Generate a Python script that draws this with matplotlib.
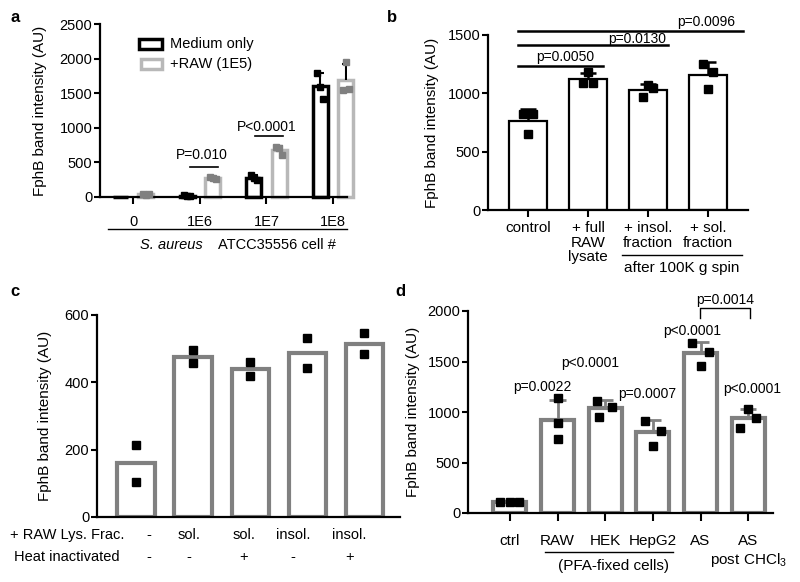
import matplotlib.pyplot as plt
import numpy as np
from matplotlib.lines import Line2D
from matplotlib.patches import Rectangle

plt.rcParams['font.family'] = ['Liberation Sans', 'DejaVu Sans']
plt.rcParams['mathtext.default'] = 'regular'

W, H = 800, 582

# Panel a: S. aureus cell number, medium only vs +RAW
a_groups = ['0', '1E6', '1E7', '1E8']
a_medium = [[0, 0, 0], [25, 15, 10], [320, 275, 245], [1795, 1585, 1415]]
a_raw = [[40, 35, 40], [295, 270, 255], [725, 705, 605], [1545, 1950, 1565]]
a_pvals = ['P=0.010', 'P<0.0001']

# Panel b: lysate fractions
b_labels = ['control', '+ full\nRAW\nlysate', '+ insol.\nfraction', '+ sol.\nfraction']
b_points = [[820, 650, 820], [1090, 1185, 1090], [970, 1070, 1050], [1250, 1035, 1185]]
b_pvals = ['p=0.0050', 'p=0.0130', 'p=0.0096']

# Panel c: heat inactivation
c_frac = ['-', 'sol.', 'sol.', 'insol.', 'insol.']
c_heat = ['-', '-', '+', '-', '+']
c_points = [[215, 105], [495, 458], [461, 419], [531, 443], [546, 484]]

# Panel d: fixed cells
d_labels = ['ctrl', 'RAW', 'HEK', 'HepG2', 'AS', 'AS\npost CHCl$_3$']
d_points = [[105, 105, 105], [1135, 895, 735], [1110, 955, 1050],
            [915, 665, 815], [1685, 1460, 1595], [845, 1030, 945]]
d_pvals = ['p=0.0022', 'p<0.0001', 'p=0.0007', 'p<0.0001', 'p<0.0001']
d_bracket_p = 'p=0.0014'

GRAY = '#808080'
LIGHT = '#b8b8b8'


def box(x0, y0, x1, y1):
    return [x0 / W, 1 - y1 / H, (x1 - x0) / W, (y1 - y0) / H]


def fx(x):
    return x / W


def fy(y):
    return 1 - y / H


def style(ax, labelsize=10.5):
    for s in ['top', 'right']:
        ax.spines[s].set_visible(False)
    for s in ['left', 'bottom']:
        ax.spines[s].set_linewidth(1.6)
    ax.tick_params(direction='out', length=4, width=1.5, labelsize=labelsize, pad=1.5)


def upbar(ax, x, mean, sd, color, cw, lw=1.5):
    if sd <= 0:
        return
    ax.vlines(x, mean, mean + sd, color=color, lw=lw, zorder=3)
    ax.hlines(mean + sd, x - cw, x + cw, color=color, lw=lw, zorder=3)


def stats(pts):
    m = np.array([np.mean(p) for p in pts])
    s = np.array([np.std(p, ddof=1) for p in pts])
    return m, s


def dots(ax, xs, ys, color, ms):
    xs = np.asarray(xs, dtype=float)
    ys = np.asarray(ys, dtype=float)
    keep = ys > 0  # no band detected -> nothing drawn
    ax.plot(xs[keep], ys[keep], 's', color=color, ms=ms, zorder=4, clip_on=False)


fig = plt.figure(figsize=(W / 100, H / 100), dpi=100)

# ---------------- panel a
axa = fig.add_axes(box(100, 24, 347, 197))
style(axa)
xa = np.arange(len(a_groups))
off, bw = 0.19, 0.225
jit_a = np.array([-0.045, 0, 0.045])
mm, ms = stats(a_medium)
rm, rs = stats(a_raw)
axa.bar(xa - off, mm, bw, facecolor='white', edgecolor='black', lw=2.5, zorder=2, clip_on=False)
axa.bar(xa + off, rm, bw, facecolor='white', edgecolor=LIGHT, lw=2.5, zorder=2, clip_on=False)
for i in range(len(a_groups)):
    upbar(axa, xa[i] - off, mm[i], ms[i], 'black', 0.06)
    upbar(axa, xa[i] + off, rm[i], rs[i], 'black', 0.06)
    dots(axa, xa[i] - off + jit_a, a_medium[i], 'black', 4.5)
    dots(axa, xa[i] + off + jit_a, a_raw[i], GRAY, 4.5)
axa.set_xlim(-0.5, 3.21)
axa.set_ylim(0, 2500)
axa.set_yticks(range(0, 2501, 500))
axa.set_xticks(xa)
axa.set_xticklabels(a_groups)
axa.tick_params(axis='x', length=5, pad=8)
axa.set_ylabel('FphB band intensity (AU)', fontsize=11)
axa.yaxis.set_label_coords(-0.215, 0.5)
# significance
axa.plot([0.855, 1.27], [434, 434], color='black', lw=1.2)
axa.text(1.03, 607, a_pvals[0], ha='center', va='center', fontsize=10)
axa.plot([1.83, 2.25], [881, 881], color='black', lw=1.2)
axa.text(2.0, 1012, a_pvals[1], ha='center', va='center', fontsize=10)
# legend
axa.add_patch(Rectangle((0.157, 0.855), 0.095, 0.058, transform=axa.transAxes,
                        facecolor='white', edgecolor='black', lw=2.5))
axa.add_patch(Rectangle((0.167, 0.74), 0.085, 0.058, transform=axa.transAxes,
                        facecolor='white', edgecolor=LIGHT, lw=2.5))
axa.text(0.285, 0.885, 'Medium only', transform=axa.transAxes, va='center', fontsize=10.5)
axa.text(0.285, 0.77, '+RAW (1E5)', transform=axa.transAxes, va='center', fontsize=10.5)
fig.add_artist(Line2D([fx(108), fx(347)], [fy(229), fy(229)], color='black', lw=1))
fig.text(fx(203), fy(245), 'S. aureus', style='italic', ha='right', va='center', fontsize=10.5)
fig.text(fx(218), fy(245), 'ATCC35556 cell #', ha='left', va='center', fontsize=10.5)

# ---------------- panel b
axb = fig.add_axes(box(488, 35, 748, 210))
style(axb)
xb = np.arange(len(b_labels))
bm, bs = stats(b_points)
jit_b = np.array([-0.09, 0, 0.09])
axb.bar(xb, bm, 0.63, facecolor='white', edgecolor='black', lw=1.6, zorder=2)
for i in range(len(b_labels)):
    upbar(axb, xb[i], bm[i], bs[i], 'black', 0.13, lw=1.8)
    dots(axb, xb[i] + jit_b, b_points[i], 'black', 5.5)
axb.set_xlim(-0.667, 3.667)
axb.set_ylim(0, 1500)
axb.set_yticks(range(0, 1501, 500))
axb.set_xticks(xb)
axb.set_xticklabels(b_labels, fontsize=11, va='top', linespacing=1.05)
axb.tick_params(axis='x', length=5, pad=3)
axb.set_ylabel('FphB band intensity (AU)', fontsize=11)
axb.yaxis.set_label_coords(-0.19, 0.5)
for yv, x1, txt, tx, ty in [(1237, 1.25, b_pvals[0], 0.62, 1311),
                            (1414, 2.33, b_pvals[1], 1.82, 1466),
                            (1537, 3.58, b_pvals[2], 2.97, 1611)]:
    axb.plot([-0.17, x1], [yv, yv], color='black', lw=1.8, clip_on=False)
    axb.text(tx, ty, txt, ha='center', va='center', fontsize=10)
fig.add_artist(Line2D([fx(622), fx(742)], [fy(255), fy(255)], color='black', lw=1))
fig.text(fx(682), fy(268), 'after 100K g spin', ha='center', va='center', fontsize=11)

# ---------------- panel c
axc = fig.add_axes(box(97, 315, 400, 517))
style(axc)
xc = np.arange(len(c_frac))
cm = [np.mean(p) for p in c_points]
axc.bar(xc, cm, 0.65, facecolor='white', edgecolor=GRAY, lw=3, zorder=2)
for i in range(len(c_frac)):
    dots(axc, [xc[i]] * len(c_points[i]), c_points[i], 'black', 5.5)
axc.set_xlim(-0.684, 4.63)
axc.set_ylim(0, 600)
axc.set_yticks(range(0, 601, 200))
axc.set_xticks([])
axc.set_ylabel('FphB band intensity (AU)', fontsize=11)
axc.yaxis.set_label_coords(-0.149, 0.5)
lab_x = [0.23, 0.93, 1.89, 2.75, 3.74]
trc = axc.get_xaxis_transform()
for i in range(len(c_frac)):
    axc.text(lab_x[i], -0.089, c_frac[i], transform=trc, ha='center', va='center', fontsize=10.5)
    axc.text(lab_x[i], -0.198, c_heat[i], transform=trc, ha='center', va='center', fontsize=10.5)
axc.text(-0.099, -0.089, '+ RAW Lys. Frac.', transform=axc.transAxes, ha='center', va='center', fontsize=10.5)
axc.text(-0.099, -0.198, 'Heat inactivated', transform=axc.transAxes, ha='center', va='center', fontsize=10.5)

# ---------------- panel d
axd = fig.add_axes(box(468, 311, 773, 513))
style(axd)
xd = np.arange(len(d_labels))
dm, ds = stats(d_points)
jit_d = [[-0.2, 0, 0.2], [0, 0, 0], [-0.17, -0.13, 0.14],
         [-0.17, 0.0, 0.17], [-0.17, 0.0, 0.17], [-0.17, 0.0, 0.17]]
axd.bar(xd, dm, 0.69, facecolor='white', edgecolor=GRAY, lw=3, zorder=2)
for i in range(len(d_labels)):
    upbar(axd, xd[i], dm[i], ds[i], GRAY, 0.17, lw=2)
    dots(axd, xd[i] + np.array(jit_d[i]), d_points[i], 'black', 5.5)
axd.set_xlim(-0.88, 5.52)
axd.set_ylim(0, 2000)
axd.set_yticks(range(0, 2001, 500))
axd.set_xticks(xd)
axd.set_xticklabels(d_labels, fontsize=11, va='top', linespacing=1.25)
axd.tick_params(axis='x', length=6, pad=9)
axd.set_ylabel('FphB band intensity (AU)', fontsize=11)
axd.yaxis.set_label_coords(-0.157, 0.5)
for txt, tx, ty in zip(d_pvals, [0.69, 1.68, 2.88, 3.82, 5.08], [1248, 1485, 1178, 1802, 1228]):
    axd.text(tx, ty, txt, ha='center', va='center', fontsize=10, clip_on=False)
axd.plot([3.99, 3.99, 5.04, 5.04], [1931, 2030, 2030, 1931], color='black', lw=1, clip_on=False)
axd.text(4.52, 2110, d_bracket_p, ha='center', va='center', fontsize=10, clip_on=False)
fig.add_artist(Line2D([fx(545), fx(673)], [fy(552), fy(552)], color='black', lw=1))
fig.text(fx(613), fy(566), '(PFA-fixed cells)', ha='center', va='center', fontsize=11)

# panel letters
for lab, x, y in [('a', 15, 17), ('b', 392, 17), ('c', 15, 292), ('d', 400, 292)]:
    fig.text(fx(x), fy(y), lab, fontsize=12, fontweight='bold', ha='center', va='center')

fig.savefig('out.png', dpi=100)
